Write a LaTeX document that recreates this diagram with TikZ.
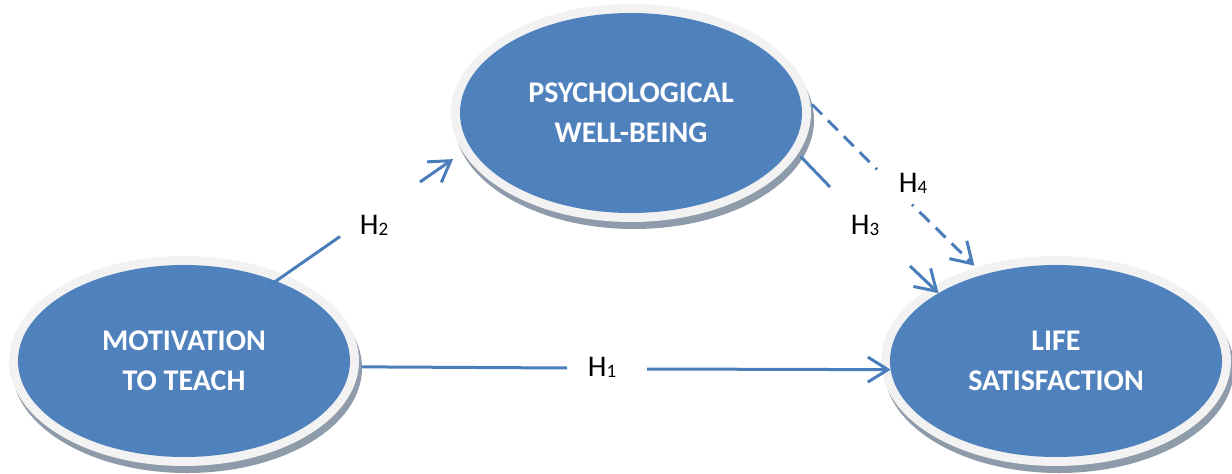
\documentclass[tikz,border=0pt]{standalone}
\usepackage{fontspec}
\setmainfont{Carlito}
\usetikzlibrary{arrows.meta,backgrounds,shapes.geometric,calc}
\definecolor{blobblue}{HTML}{4F81BD}
\definecolor{ringgray}{HTML}{F2F2F2}
\definecolor{shadegray}{HTML}{8E9BAB}
\definecolor{linkblue}{HTML}{4A7EBB}
% hypothesis label: H with a lowered, smaller index
\newcommand\hyp[1]{H\raisebox{-1.5pt}{\fontsize{19}{19}\selectfont #1}}
\begin{document}
\begin{tikzpicture}[x=1pt,y=-1pt,
  blob/.style={ellipse, fill=blobblue, inner sep=0pt, outer sep=0pt,
    text=white, align=center, font=\fontsize{30}{40}\selectfont\bfseries},
  link/.style={draw=linkblue, line width=3pt},
  tip/.style={-{Straight Barb[length=20pt,width=25pt]}},
  dashedlink/.style={link, dash pattern=on 14pt off 8.5pt},
  hyplabel/.style={inner sep=0pt, anchor=base west, font=\fontsize{30}{36}\selectfont}]
\useasboundingbox (0,0) rectangle (1232,474);

% constructs
\node[blob, minimum width=332pt, minimum height=192pt] (mot) at (184,361) {MOTIVATION\\TO TEACH};
\node[blob, minimum width=342pt, minimum height=200pt] (psy) at (631,113) {PSYCHOLOGICAL\\WELL-BEING};
\node[blob, minimum width=332pt, minimum height=192pt] (life) at (1056,361) {LIFE\\SATISFACTION};

% light rims with a soft drop shadow behind each construct
\begin{scope}[on background layer]
  \fill[white] (0,0) rectangle (1232,474);
  \foreach \n/\rx/\ry in {mot/175pt/105pt, psy/180pt/109pt, life/175pt/105pt} {
    \fill[shadegray] ([shift={(3,7)}]\n.center) ellipse [x radius=\rx, y radius=\ry];
    \fill[ringgray] (\n.center) ellipse [x radius=\rx, y radius=\ry];
  }
\end{scope}

% gaps left around the hypothesis labels
\coordinate (h1a) at (567,368);
\coordinate (h1b) at (647,369);
\coordinate (h2a) at (340,236.5);
\coordinate (h2b) at (420,182);
\coordinate (h3a) at (830,187);
\coordinate (h3b) at (910,266);
\coordinate (h4a) at (877,169.4);
\coordinate (h4b) at (912,204.6);

% H1: motivation -> life satisfaction (starts just outside the rim)
\draw[link, shorten <=12pt] (mot.-2) -- (h1a);
\draw[link, tip] (h1b) -- (life.183);
% H2: motivation -> psychological well-being (starts inside the ellipse)
\draw[link] ($(mot.41)!-10.6pt!(h2a)$) -- (h2a);
\draw[link, tip, shorten >=21pt] (h2b) -- (psy.192);
% H3: psychological well-being -> life satisfaction
\draw[link, shorten <=12.8pt] (psy.-12.5) -- (h3a);
\draw[link, tip] (h3b) -- (life.150);
% H4: mediated path (dashed)
\draw[dashedlink, shorten <=20.9pt] (psy.8) -- (h4a);
\draw[dashedlink, dash phase=12pt, tip, shorten >=12.8pt] (h4b) -- (life.130.7);

% hypothesis labels
\node[hyplabel] (l1) at (587.7,376) {\hyp{1}};
\node[hyplabel] (l2) at (359.7,234) {\hyp{2}};
\node[hyplabel] (l3) at (850.7,234) {\hyp{3}};
\node[hyplabel] (l4) at (898.7,192) {\hyp{4}};
\end{tikzpicture}
\end{document}
